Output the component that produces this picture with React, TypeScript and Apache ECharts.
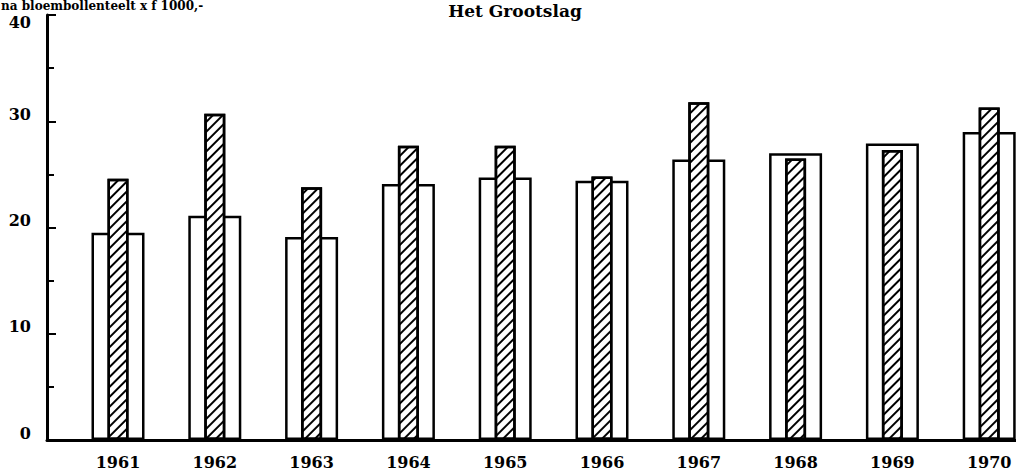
import React, { useEffect, useRef } from "react";
import * as echarts from "echarts";

const years = [1961, 1962, 1963, 1964, 1965, 1966, 1967, 1968, 1969, 1970];
const plainValues = [19.5, 21.1, 19.1, 24.1, 24.7, 24.4, 26.4, 27.0, 27.9, 29.0];
const hatchedValues = [24.6, 30.7, 23.8, 27.7, 27.7, 24.8, 31.8, 26.5, 27.3, 31.3];
const yTicks = [0, 10, 20, 30, 40];

const FONT = "DejaVu Serif";

export default function App() {
  const ref = useRef<HTMLDivElement>(null);
  useEffect(() => {
    if (!ref.current) return;
    const chart = echarts.init(ref.current, undefined, { renderer: "svg" });
    const xMin = 1960.2665;
    const xMax = 1970.277;
    const plainData = years.map((y, i) => [y, plainValues[i]]);
    const hatchedData = years.map((y, i) => [y, hatchedValues[i]]);
    const labelStyle = {
      color: "#000",
      fontFamily: FONT,
      fontWeight: "bold" as const,
      fontSize: 16,
    };
    chart.setOption({
      animation: false,
      backgroundColor: "#fff",
      grid: { left: 47, right: 0, top: 15, bottom: 31, containLabel: false },
      graphic: [
        {
          type: "text",
          left: 1,
          top: 0,
          style: {
            text: "na bloembollenteelt x f 1000,-",
            font: `bold 12px "${FONT}"`,
            fill: "#000",
          },
        },
        {
          type: "text",
          x: 515,
          y: 2,
          style: {
            text: "Het Grootslag",
            font: `bold 17px "${FONT}"`,
            fill: "#000",
            textAlign: "center",
            textVerticalAlign: "top",
          },
        },
      ],
      xAxis: [
        {
          type: "value",
          min: xMin,
          max: xMax,
          axisLine: { show: true, lineStyle: { color: "#000", width: 3 } },
          axisTick: { show: false },
          splitLine: { show: false },
          axisLabel: {
            customValues: years,
            formatter: (v: number) => String(Math.round(v)),
            ...labelStyle,
            margin: 14,
            showMinLabel: true,
            showMaxLabel: true,
          },
        },
        {
          type: "value",
          min: xMin,
          max: xMax,
          show: false,
        },
      ],
      yAxis: {
        type: "value",
        min: 0,
        max: 40,
        interval: 10,
        axisLine: { show: true, lineStyle: { color: "#000", width: 3 } },
        axisTick: {
          show: true,
          inside: true,
          length: 9,
          lineStyle: { color: "#000", width: 2 },
        },
        minorTick: {
          show: true,
          splitNumber: 2,
          length: 7,
          lineStyle: { color: "#000", width: 2 },
        },
        splitLine: { show: false },
        axisLabel: {
          ...labelStyle,
          margin: 16,
          formatter: (v: number) => {
            if (yTicks.indexOf(v) < 0) return "";
            return v === 40 ? `{low|${v}}` : `{high|${v}}`;
          },
          rich: {
            low: { ...labelStyle, padding: [14, 0, 0, 0] },
            high: { ...labelStyle, padding: [0, 0, 14, 0] },
          },
        },
      },
      series: [
        {
          name: "plain",
          type: "bar",
          xAxisIndex: 0,
          data: plainData,
          barWidth: 53,
          itemStyle: { color: "#fff", borderColor: "#000", borderWidth: 2.5 },
        },
        {
          name: "hatched",
          type: "bar",
          xAxisIndex: 1,
          data: hatchedData,
          barWidth: 21,
          itemStyle: {
            color: "#fff",
            borderColor: "#000",
            borderWidth: 2.5,
            decal: {
              symbol: "rect",
              symbolSize: 1,
              color: "#000",
              dashArrayX: [1, 0],
              dashArrayY: [2, 4.8],
              rotation: -Math.PI / 4,
            },
          },
        },
      ],
    });
    return () => chart.dispose();
  }, []);
  return (
    <div
      ref={ref}
      style={{ position: "fixed", left: 0, top: 0, width: 1016, height: 471 }}
    />
  );
}
